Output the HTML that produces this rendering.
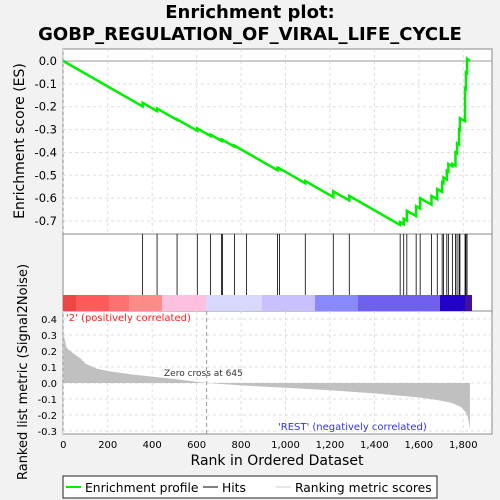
<!DOCTYPE html>
<html><head><meta charset="utf-8"><style>
body{margin:0;background:#f2f2f2;}
svg{display:block;font-family:"DejaVu Sans","Liberation Sans",sans-serif;}
</style></head><body>
<svg id="chart" width="500" height="500">
<rect x="0" y="0" width="500" height="500" fill="#f2f2f2"/>
<text x="250" y="18" text-anchor="middle" font-size="18" font-weight="bold">Enrichment plot:</text>
<text x="250" y="40" text-anchor="middle" font-size="18" font-weight="bold">GOBP_REGULATION_OF_VIRAL_LIFE_CYCLE</text>
<rect x="63" y="49" width="429" height="185" fill="#fff" stroke="#888"/>
<rect x="63" y="234" width="429" height="77" fill="#fff" stroke="#888"/>
<rect x="63" y="311" width="429" height="123" fill="#fff" stroke="#888"/>
<g id="g"></g>
<text transform="translate(24,141) rotate(-90)" text-anchor="middle" font-size="14">Enrichment score (ES)</text>
<text transform="translate(27,372) rotate(-90)" text-anchor="middle" font-size="13">Ranked list metric (Signal2Noise)</text>
<text x="277" y="465" text-anchor="middle" font-size="14">Rank in Ordered Dataset</text>
<text x="66" y="321" font-size="10" fill="#ff2020">'2' (positively correlated)</text>
<text x="278" y="430" font-size="10" fill="#3030ff">'REST' (negatively correlated)</text>
<text x="164" y="376" font-size="9" fill="#333">Zero cross at 645</text>
<g>
<rect x="63" y="476" width="374" height="22" fill="#fff" stroke="#222"/>
<line x1="66" y1="487" x2="81" y2="487" stroke="#00ee00" stroke-width="2"/>
<text x="85" y="492" font-size="12.3">Enrichment profile</text>
<line x1="203" y1="487" x2="218" y2="487" stroke="#000"/>
<text x="222" y="492" font-size="12.3">Hits</text>
<line x1="276" y1="487" x2="291" y2="487" stroke="#ccc"/>
<text x="295" y="492" font-size="12.3">Ranking metric scores</text>
</g>
</svg>
<script>
const hitRanks=[357,422,512,603,663,712,717,770,824,964,973,1089,1215,1287,1516,1532,1546,1588,1606,1657,1683,1705,1711,1726,1733,1751,1765,1772,1781,1785,1808,1812,1817];
const esAfter=[-0.183,-0.208,-0.255,-0.295,-0.322,-0.345,-0.345,-0.37,-0.40,-0.468,-0.47,-0.525,-0.57,-0.59,-0.705,-0.69,-0.655,-0.635,-0.60,-0.59,-0.56,-0.53,-0.51,-0.48,-0.45,-0.45,-0.40,-0.36,-0.30,-0.25,-0.12,-0.05,0.01];
const metricRanks=[0,5,15,30,60,80,100,150,200,300,400,500,645,800,1000,1200,1400,1600,1700,1750,1790,1810,1820,1828,1830];
const metricValues=[0.33,0.28,0.22,0.2,0.17,0.15,0.12,0.09,0.075,0.055,0.04,0.025,0,-0.015,-0.03,-0.045,-0.065,-0.09,-0.11,-0.125,-0.15,-0.18,-0.21,-0.27,-0.28];
const esTicks=[0,-0.1,-0.2,-0.3,-0.4,-0.5,-0.6,-0.7];
const metricTicks=[0.4,0.3,0.2,0.1,0,-0.1,-0.2,-0.3];
const xTicks=[0,200,400,600,800,1000,1200,1400,1600,1800];
const xTickLabels=["0","200","400","600","800","1,000","1,200","1,400","1,600","1,800"];
const N=1830, drop=1/1797;
const X=r=>63.3+r*0.2222;
const YE=v=>61-v*228.6;
const YM=v=>383-v*160;
const g=document.getElementById('g');
const NS='http://www.w3.org/2000/svg';
function mk(t,a){const e=document.createElementNS(NS,t);for(const k in a)e.setAttribute(k,a[k]);g.appendChild(e);return e;}
xTicks.forEach((t,i)=>{
 let l=mk('line',{x1:X(t),x2:X(t),y1:49,y2:234,stroke:'#ddd','stroke-dasharray':'3,3'});
 
 l=mk('line',{x1:X(t),x2:X(t),y1:311,y2:434,stroke:'#ddd','stroke-dasharray':'3,3'});
 
 let tx=mk('text',{x:X(t),y:448,'text-anchor':'middle','font-size':10});tx.textContent=xTickLabels[i];
 
});
esTicks.forEach(t=>{
 let l=mk('line',{x1:63,x2:492,y1:YE(t),y2:YE(t),stroke:t===0?'#999':'#ddd','stroke-dasharray':t===0?'':'3,3'});
 
 let tx=mk('text',{x:57,y:YE(t)+4,'text-anchor':'end','font-size':11.5});tx.textContent=t.toFixed(1);
 
});
metricTicks.forEach(t=>{
 let l=mk('line',{x1:63,x2:492,y1:YM(t),y2:YM(t),stroke:'#ddd','stroke-dasharray':'3,3'});
 
 let tx=mk('text',{x:57,y:YM(t)+4,'text-anchor':'end','font-size':10});tx.textContent=t.toFixed(1);
 
});
let zl=mk('line',{x1:X(645),x2:X(645),y1:311,y2:434,stroke:'#999','stroke-dasharray':'4,3'});

let d='M'+X(0)+','+YM(0);
metricRanks.forEach((r,i)=>{d+=' L'+X(r)+','+YM(metricValues[i]);});
d+=' L'+X(N)+','+YM(0)+' Z';
let ar=mk('path',{d:d,fill:'#c0c0c0'});

const cb=[[63,'#f04545'],[76,'#ff5a5a'],[109,'#ff7070'],[129,'#ff8a8a'],[162,'#ffc0e0'],[206,'#d8d8ff'],[262,'#c8c0ff'],[315,'#8888ff'],[358,'#7060f0'],[440,'#2200cc'],[465,'#4010a0'],[472,null]];
for(let i=0;i<cb.length-1;i++){
 let r=mk('rect',{x:cb[i][0],y:295,width:cb[i+1][0]-cb[i][0],height:16,fill:cb[i][1]});
 
}
hitRanks.forEach(r=>{
 let l=mk('line',{x1:X(r),x2:X(r),y1:234,y2:295,stroke:'#000','stroke-width':0.8});
 
});
let pts=[[0,0]];let prevR=0,prevV=0;
hitRanks.forEach((r,i)=>{const before=prevV-drop*(r-prevR);pts.push([r,before]);pts.push([r,esAfter[i]]);prevR=r;prevV=esAfter[i];});
pts.push([N,0]);
let pl=mk('polyline',{points:pts.map(p=>X(p[0])+','+YE(p[1])).join(' '),fill:'none',stroke:'#00ee00','stroke-width':2.5});

</script>
</body></html>
